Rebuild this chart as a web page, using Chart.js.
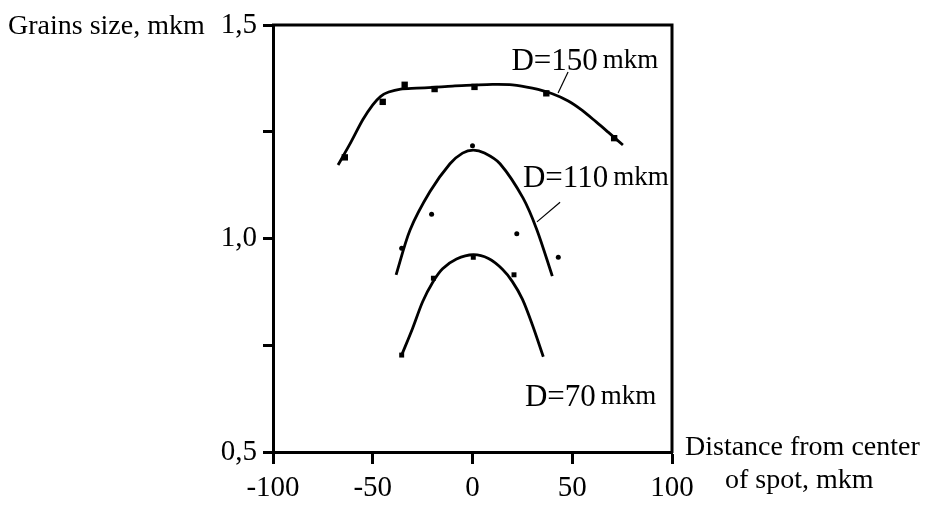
<!DOCTYPE html>
<html>
<head>
<meta charset="utf-8">
<script src="https://cdn.jsdelivr.net/npm/chart.js@4/dist/chart.umd.min.js"></script>
<style>
  html, body { margin: 0; padding: 0; background: #fff; }
  #wrap { width: 930px; height: 506px; }
</style>
</head>
<body>
<div id="wrap"><canvas id="grainChart" width="930" height="506"></canvas></div>
<script>
// x: distance from center of spot (mkm), y: grains size (mkm)
// fitted curves
const curve150 = [
  { x: -67.4, y: 1.172 }, { x: -61, y: 1.225 }, { x: -55, y: 1.278 }, { x: -50, y: 1.313 },
  { x: -46, y: 1.333 }, { x: -42, y: 1.343 }, { x: -36, y: 1.350 }, { x: -28, y: 1.352 },
  { x: -20, y: 1.354 }, { x: -10, y: 1.357 }, { x: 0, y: 1.359 }, { x: 10, y: 1.361 },
  { x: 20, y: 1.360 }, { x: 30, y: 1.352 }, { x: 40, y: 1.339 }, { x: 48, y: 1.322 },
  { x: 55, y: 1.300 }, { x: 62, y: 1.273 }, { x: 68, y: 1.249 }, { x: 75.4, y: 1.219 }
];
const curve110 = [
  { x: -38.3, y: 0.915 }, { x: -31.3, y: 1.020 }, { x: -21.3, y: 1.110 },
  { x: -11.3, y: 1.175 }, { x: -5, y: 1.200 }, { x: 0.4, y: 1.207 }, { x: 6, y: 1.200 },
  { x: 13.8, y: 1.175 }, { x: 25.3, y: 1.095 }, { x: 32.3, y: 1.020 }, { x: 40.0, y: 0.912 }
];
const curve70 = [
  { x: -35.5, y: 0.727 }, { x: -30, y: 0.790 }, { x: -25, y: 0.852 }, { x: -20, y: 0.897 },
  { x: -15, y: 0.929 }, { x: -8, y: 0.952 }, { x: 0.4, y: 0.962 }, { x: 8, y: 0.953 },
  { x: 15, y: 0.928 }, { x: 20, y: 0.899 }, { x: 25, y: 0.858 }, { x: 30, y: 0.798 },
  { x: 35.5, y: 0.723 }
];

// measured points
const points150 = [
  { x: -64, y: 1.19 }, { x: -45, y: 1.32 }, { x: -34, y: 1.36 }, { x: -19, y: 1.35 },
  { x: 1, y: 1.355 }, { x: 37, y: 1.34 }, { x: 71, y: 1.235 }
];
const points110 = [
  { x: -35.5, y: 0.977 }, { x: -20.5, y: 1.057 }, { x: 0, y: 1.217 },
  { x: 22.2, y: 1.011 }, { x: 43, y: 0.956 }
];
const points70 = [
  { x: -35.5, y: 0.727 }, { x: -19.6, y: 0.907 }, { x: 0.4, y: 0.956 }, { x: 20.8, y: 0.915 }
];

// ticks
const xTicks = [-100, -50, 0, 50, 100];
const yTicks = [0.5, 0.75, 1.0, 1.25, 1.5];
const yLabels = { 0.5: "0,5", 1: "1,0", 1.5: "1,5" };

// curve labels, placed in data units
const curveLabels = [
  { text: "D=150", unit: "mkm", x: 19.5, y: 1.395, lineFrom: [47.9, 1.390], lineTo: [42.9, 1.341] },
  { text: "D=110", unit: "mkm", x: 25.3, y: 1.121, lineFrom: [43.9, 1.085], lineTo: [32.3, 1.039] },
  { text: "D=70", unit: "mkm", x: 26.3, y: 0.608 }
];

const serif = "'Liberation Serif', 'Times New Roman', serif";

const curveStyle = {
  type: "line", borderColor: "#000", borderWidth: 2.8, pointRadius: 0,
  fill: false, tension: 0.3
};
const dotStyle = { type: "scatter", backgroundColor: "#000", borderColor: "#000", borderWidth: 0 };

// top & right frame, axis titles, curve labels
const decorations = {
  id: "decorations",
  afterDraw(chart) {
    const { ctx, chartArea: a, scales: { x, y } } = chart;
    ctx.save();
    ctx.strokeStyle = "#000";
    ctx.lineWidth = 3;
    ctx.beginPath();
    ctx.moveTo(a.left - 1, a.top);
    ctx.lineTo(a.right, a.top);
    ctx.lineTo(a.right, a.bottom + 1);
    ctx.stroke();

    ctx.fillStyle = "#000";
    ctx.textBaseline = "alphabetic";
    ctx.font = "28px " + serif;
    ctx.fillText("Grains size, mkm", 8, 34);
    ctx.fillText("Distance from center", 685, 455);
    ctx.fillText("of spot, mkm", 725, 488);

    curveLabels.forEach(l => {
      const px = x.getPixelForValue(l.x), py = y.getPixelForValue(l.y);
      ctx.font = "31px " + serif;
      ctx.fillText(l.text, px, py);
      const w = ctx.measureText(l.text).width;
      ctx.font = "27px " + serif;
      ctx.fillText(l.unit, px + w + 5, py - 2);
      if (l.lineFrom) {
        ctx.lineWidth = 1.2;
        ctx.beginPath();
        ctx.moveTo(x.getPixelForValue(l.lineFrom[0]), y.getPixelForValue(l.lineFrom[1]));
        ctx.lineTo(x.getPixelForValue(l.lineTo[0]), y.getPixelForValue(l.lineTo[1]));
        ctx.stroke();
      }
    });
    ctx.restore();
  }
};

new Chart(document.getElementById("grainChart"), {
  data: {
    datasets: [
      { ...curveStyle, data: curve150 },
      { ...curveStyle, data: curve110 },
      { ...curveStyle, data: curve70 },
      { ...dotStyle, data: points150, pointStyle: "rect", pointRadius: 4.5 },
      { ...dotStyle, data: points110, pointStyle: "circle", pointRadius: 2.5 },
      { ...dotStyle, data: points70, pointStyle: "rect", pointRadius: 3.5 }
    ]
  },
  options: {
    responsive: false,
    animation: false,
    layout: { padding: { left: 0, top: 25, right: 258, bottom: 0 } },
    plugins: { legend: { display: false }, tooltip: { enabled: false } },
    scales: {
      x: {
        type: "linear", min: -100, max: 100,
        afterFit: s => { s.height = 54; },
        afterBuildTicks: s => { s.ticks = xTicks.map(v => ({ value: v })); },
        grid: { drawOnChartArea: false, drawTicks: true, tickLength: 12, tickWidth: 3, tickColor: "#000" },
        border: { display: true, width: 3, color: "#000" },
        ticks: { color: "#000", font: { family: serif, size: 29 }, padding: 7, maxRotation: 0 }
      },
      y: {
        type: "linear", min: 0.5, max: 1.5,
        afterFit: s => { s.width = 273; },
        afterBuildTicks: s => { s.ticks = yTicks.map(v => ({ value: v })); },
        grid: { drawOnChartArea: false, drawTicks: true, tickLength: 10, tickWidth: 3, tickColor: "#000" },
        border: { display: true, width: 3, color: "#000" },
        ticks: {
          color: "#000", font: { family: serif, size: 29 }, padding: 6,
          callback: v => yLabels[v] || ""
        }
      }
    }
  },
  plugins: [decorations]
});
</script>
</body>
</html>
